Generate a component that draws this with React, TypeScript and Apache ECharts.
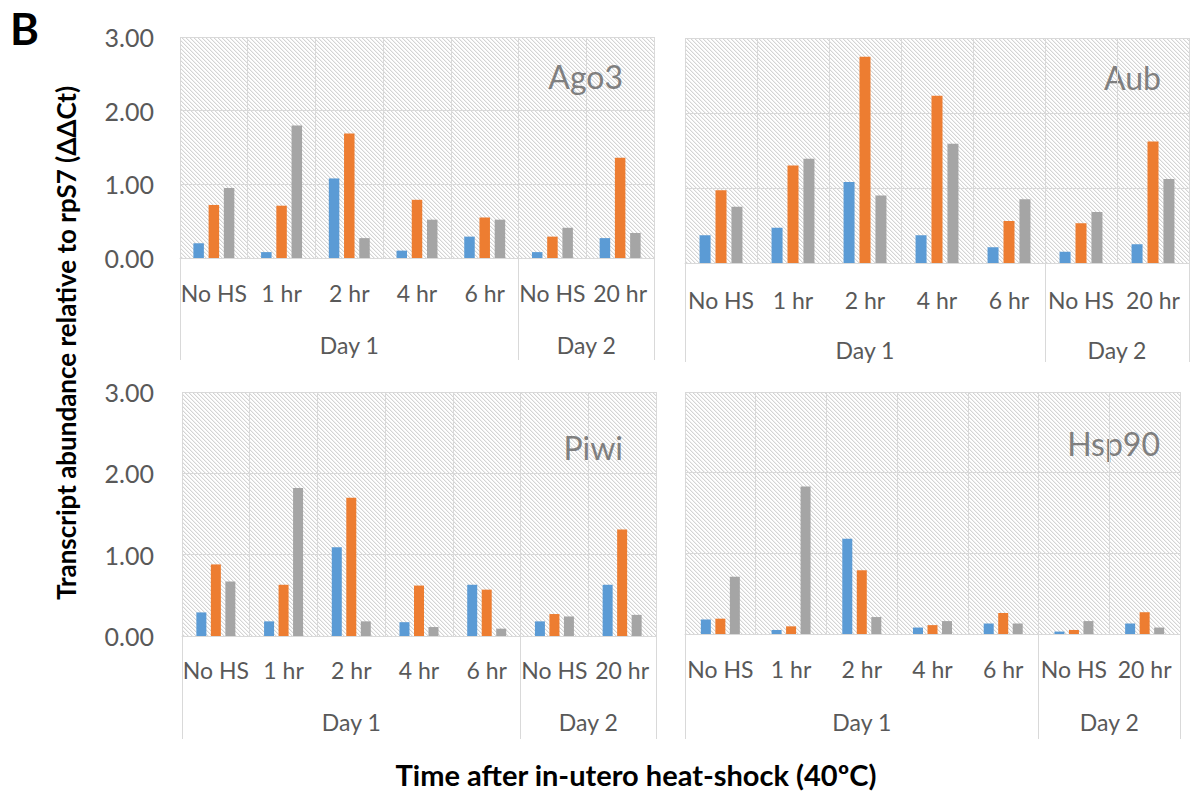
import React, { useEffect, useRef } from 'react';
import * as echarts from 'echarts';

const categories = ['No HS', '1 hr', '2 hr', '4 hr', '6 hr', 'No HS', '20 hr'];
const dayGroups = ['Day 1', 'Day 2'];
const dayGroupSizes = [5, 2];
const yTicks = [0, 1, 2, 3];
const panelTitles = ['Ago3', 'Aub', 'Piwi', 'Hsp90'];
const seriesNames = ['Series 1', 'Series 2', 'Series 3'];
const seriesColors = ['#5B9BD5', '#ED7D31', '#A5A5A5'];

const ago3Blue = [0.2, 0.08, 1.08, 0.1, 0.29, 0.08, 0.27];
const ago3Orange = [0.72, 0.71, 1.69, 0.79, 0.55, 0.29, 1.36];
const ago3Gray = [0.95, 1.8, 0.27, 0.52, 0.52, 0.41, 0.34];

const aubBlue = [0.37, 0.47, 1.08, 0.37, 0.21, 0.15, 0.25];
const aubOrange = [0.97, 1.3, 2.75, 2.23, 0.56, 0.53, 1.62];
const aubGray = [0.75, 1.39, 0.9, 1.59, 0.85, 0.68, 1.12];

const piwiBlue = [0.29, 0.18, 1.09, 0.17, 0.63, 0.18, 0.63];
const piwiOrange = [0.88, 0.63, 1.7, 0.62, 0.57, 0.27, 1.31];
const piwiGray = [0.67, 1.82, 0.18, 0.11, 0.09, 0.24, 0.26];

const hsp90Blue = [0.18, 0.05, 1.18, 0.08, 0.13, 0.03, 0.13];
const hsp90Orange = [0.19, 0.095, 0.79, 0.11, 0.26, 0.05, 0.27];
const hsp90Gray = [0.71, 1.83, 0.21, 0.16, 0.13, 0.16, 0.08];

const panelData = [
  [ago3Blue, ago3Orange, ago3Gray],
  [aubBlue, aubOrange, aubGray],
  [piwiBlue, piwiOrange, piwiGray],
  [hsp90Blue, hsp90Orange, hsp90Gray],
];

// layout (pixels)
const gridRects = [
  { left: 180, top: 37, width: 474, height: 221 },
  { left: 685, top: 38, width: 504, height: 225 },
  { left: 182, top: 392, width: 474, height: 244 },
  { left: 685, top: 392, width: 495, height: 242 },
];
const catLabelOffset = [35, 37, 34, 35];
const dayLabelOffset = [87, 87, 86, 88];
const dividerLength = [102, 99, 103, 105];
const barWidths = [10.5, 11, 10, 10];
const titlePos = [
  { x: 623, y: 76 },
  { x: 1161, y: 77 },
  { x: 623, y: 447 },
  { x: 1160, y: 443 },
];

const LABEL_FONT = 'Lato, "Open Sans", sans-serif';
const GRID_COLOR = '#D9D9D9';
const TEXT_COLOR = '#595959';

function makeHatch() {
  const size = 4;
  const c = document.createElement('canvas');
  c.width = size;
  c.height = size;
  const ctx = c.getContext('2d')!;
  const img = ctx.createImageData(size, size);
  for (let y = 0; y < size; y++) {
    for (let x = 0; x < size; x++) {
      const d = ((x - y) % size + size) % size;
      let v = 255;
      if (d === 0) v = 212;
      else if (d === 1) v = 240;
      const i = (y * size + x) * 4;
      img.data[i] = v;
      img.data[i + 1] = v;
      img.data[i + 2] = v;
      img.data[i + 3] = 255;
    }
  }
  ctx.putImageData(img, 0, 0);
  return c;
}

export default function App() {
  const ref = useRef<HTMLDivElement>(null);

  useEffect(() => {
    if (!ref.current) return;
    const chart = echarts.init(ref.current, undefined, { renderer: 'svg' });
    const hatch = makeHatch();
    const pattern: any = { image: hatch, repeat: 'repeat', imageWidth: 4, imageHeight: 4 };

    const boundaries: number[] = [0];
    const centers: number[] = [];
    let acc = 0;
    dayGroupSizes.forEach((s) => {
      centers.push(acc + s / 2);
      acc += s;
      boundaries.push(acc);
    });

    const grid: any[] = [];
    const xAxis: any[] = [];
    const yAxis: any[] = [];
    const series: any[] = [];
    const graphic: any[] = [];

    gridRects.forEach((r, g) => {
      grid.push({
        left: r.left,
        top: r.top,
        width: r.width,
        height: r.height,
        show: true,
        backgroundColor: pattern,
        borderWidth: 0,
      });
      xAxis.push({
        type: 'category',
        gridIndex: g,
        data: categories,
        position: 'bottom',
        axisLine: { show: true, lineStyle: { color: GRID_COLOR, width: 1 } },
        axisTick: { show: false },
        splitLine: { show: true, interval: 0, lineStyle: { color: GRID_COLOR, width: 1 } },
        axisLabel: {
          interval: 0,
          margin: catLabelOffset[g] - 11.5,
          color: TEXT_COLOR,
          fontFamily: LABEL_FONT,
          fontSize: 23,
        },
      });
      xAxis.push({
        type: 'value',
        gridIndex: g,
        min: 0,
        max: categories.length,
        position: 'bottom',
        offset: 0,
        axisLine: { show: false },
        splitLine: { show: false },
        axisTick: {
          show: true,
          customValues: boundaries,
          length: dividerLength[g],
          lineStyle: { color: GRID_COLOR, width: 1 },
        },
        axisLabel: {
          show: true,
          customValues: centers,
          formatter: (v: number) => {
            const idx = centers.findIndex((c) => Math.abs(c - v) < 1e-6);
            return idx >= 0 ? dayGroups[idx] : '';
          },
          margin: dayLabelOffset[g] - 11.5,
          color: TEXT_COLOR,
          fontFamily: LABEL_FONT,
          fontSize: 23,
        },
      });
      yAxis.push({
        type: 'value',
        gridIndex: g,
        min: yTicks[0],
        max: yTicks[yTicks.length - 1],
        interval: 1,
        axisLine: { show: false },
        axisTick: { show: false },
        splitLine: { show: true, lineStyle: { color: GRID_COLOR, width: 1 } },
        axisLabel: {
          show: g % 2 === 0,
          formatter: (v: number) => v.toFixed(2),
          margin: g === 0 ? 26 : 28,
          color: TEXT_COLOR,
          fontFamily: LABEL_FONT,
          fontSize: 25,
        },
      });
      panelData[g].forEach((vals, s) => {
        series.push({
          type: 'bar',
          name: seriesNames[s],
          xAxisIndex: g * 2,
          yAxisIndex: g,
          data: vals,
          barWidth: barWidths[g],
          barGap: '45%',
          itemStyle: { color: seriesColors[s] },
        });
      });
      graphic.push({
        type: 'text',
        x: titlePos[g].x,
        y: titlePos[g].y,
        style: {
          text: panelTitles[g],
          align: 'right',
          verticalAlign: 'middle',
          fill: '#7F7F7F',
          font: `32px ${LABEL_FONT}`,
        },
      });
    });

    graphic.push({
      type: 'text',
      x: 10,
      y: 6,
      style: { text: 'B', fill: '#000', font: `bold 44px ${LABEL_FONT}`, verticalAlign: 'top' },
    });
    graphic.push({
      type: 'text',
      x: 66,
      y: 343,
      rotation: Math.PI / 2,
      style: {
        text: 'Transcript abundance relative to rpS7 (ΔΔCt)',
        align: 'center',
        verticalAlign: 'middle',
        fill: '#000',
        font: `bold 26px ${LABEL_FONT}`,
      },
    });
    graphic.push({
      type: 'text',
      x: 636,
      y: 774,
      style: {
        text: 'Time after in-utero heat-shock (40ºC)',
        align: 'center',
        verticalAlign: 'middle',
        fill: '#000',
        font: `bold 29px ${LABEL_FONT}`,
      },
    });

    chart.setOption({
      animation: false,
      backgroundColor: '#FFFFFF',
      grid,
      xAxis,
      yAxis,
      series,
      graphic,
    });

    return () => chart.dispose();
  }, []);

  return (
    <div
      ref={ref}
      style={{ position: 'fixed', left: 0, top: 0, width: 1191, height: 792 }}
    />
  );
}
